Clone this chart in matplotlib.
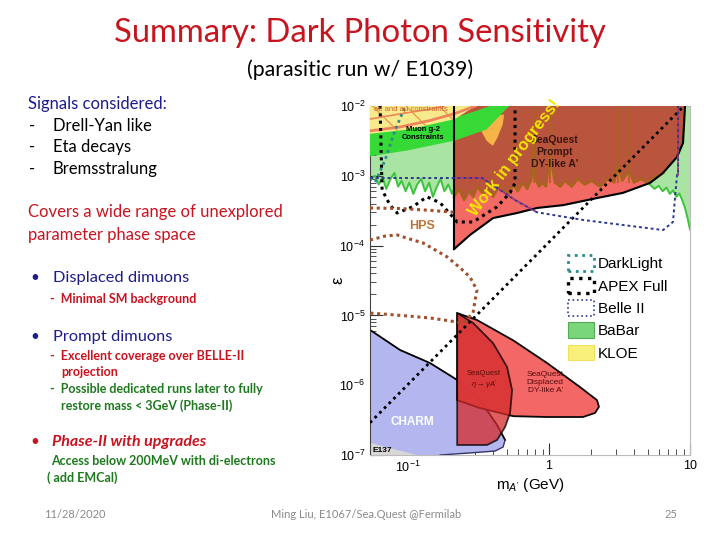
import numpy as np
import matplotlib
matplotlib.use("Agg")
import matplotlib.pyplot as plt
from matplotlib.patches import Patch
from matplotlib.ticker import FixedLocator, FixedFormatter, LogLocator, NullFormatter

# ---------------- data (mass in GeV, epsilon) ----------------
babar_left_m = [0.054, 0.058, 0.062, 0.066, 0.070, 0.075, 0.080, 0.085, 0.090, 0.096, 0.102, 0.109,
                0.116, 0.124, 0.132, 0.141, 0.150, 0.160, 0.170, 0.181, 0.193, 0.205, 0.212]
babar_left_eps = [8.5e-4, 1.0e-3, 7.5e-4, 9.5e-4, 6.5e-4, 9e-4, 1.1e-3, 7e-4, 8.5e-4, 6e-4, 8e-4, 5.5e-4,
                  7.5e-4, 9e-4, 6e-4, 8e-4, 5e-4, 7e-4, 9e-4, 6e-4, 7.5e-4, 5.5e-4, 6.5e-4]
babar_right_m = [5.2, 5.6, 6.0, 6.4, 6.8, 7.2, 7.6, 8.0, 8.4, 8.8, 9.2, 9.6, 10.0]
babar_right_eps = [7.5e-4, 6.5e-4, 7.2e-4, 6.0e-4, 6.8e-4, 5.5e-4, 6.2e-4, 5.0e-4, 5.6e-4, 4.5e-4, 3.5e-4, 2.5e-4, 1.7e-4]

prompt_m = [0.212, 0.212, 0.275, 0.401, 0.593, 0.822, 1.26, 2.19, 3.35, 5.2, 6.44, 8.09, 8.92, 9.22]
prompt_eps = [1e-2, 8.9e-5, 1.42e-4, 2.48e-4, 2.93e-4, 3.46e-4, 3.8e-4, 4.8e-4, 5.7e-4, 7.9e-4, 1.1e-3, 1.86e-3, 2.95e-3, 1e-2]

bkg_m = [0.212, 0.23, 0.25, 0.27, 0.29, 0.31, 0.34, 0.37, 0.40, 0.44, 0.48, 0.52, 0.56, 0.60, 0.65, 0.70,
         0.75, 0.78, 0.80, 0.85, 0.90, 0.95, 1.02, 1.10, 1.2, 1.3, 1.45, 1.6, 1.8, 2.0, 2.3, 2.6, 2.9, 3.1,
         3.3, 3.7, 4.0, 4.5, 5.0, 5.5, 6.0, 6.44]
bkg_eps = [5e-4, 6.5e-4, 4.5e-4, 6e-4, 5e-4, 7e-4, 5.5e-4, 6.5e-4, 5e-4, 7e-4, 6e-4, 5.5e-4, 7.5e-4, 6e-4,
           8e-4, 6.5e-4, 9e-4, 3e-3, 9e-4, 7e-4, 8e-4, 7e-4, 2e-3, 8e-4, 7e-4, 8.5e-4, 7e-4, 9e-4, 7.5e-4,
           8.5e-4, 7e-4, 9e-4, 8e-4, 1.5e-3, 8.5e-4, 1.2e-3, 8e-4, 9e-4, 8e-4, 9.5e-4, 1.0e-3, 1.1e-3]
resonance_m = [0.78, 1.02, 3.1, 3.69]

g2_upper_m = [0.0537, 0.10, 0.215, 0.31, 0.38]
g2_upper_eps = [4.3e-3, 5.2e-3, 6.8e-3, 8.6e-3, 1e-2]
g2_lower_m = [0.0537, 0.098, 0.215, 0.36, 0.52]
g2_lower_eps = [1.9e-3, 2.3e-3, 3.2e-3, 4.6e-3, 1e-2]

kloe_m = [0.0537, 0.30, 0.215, 0.10, 0.0537]
kloe_eps = [1e-2, 1e-2, 6.5e-3, 4.6e-3, 4.0e-3]
orange_m = [0.215, 0.30, 0.36, 0.38, 0.40, 0.43, 0.47, 0.48, 0.215]
orange_eps = [6.0e-3, 6.3e-3, 3.2e-3, 2.9e-3, 2.7e-3, 3.5e-3, 5.5e-3, 7.5e-3, 7.0e-3]
ae_line1_m = [0.0537, 0.0878, 0.143, 0.18]
ae_line1_eps = [6.5e-3, 7.7e-3, 9.0e-3, 1e-2]
ae_line2_m = [0.0537, 0.0878, 0.143, 0.215, 0.30]
ae_line2_eps = [4.4e-3, 5.0e-3, 6.2e-3, 7.8e-3, 1e-2]

darklight_m = [0.0586, 0.0687, 0.0808, 0.0952]
darklight_eps = [8.1e-4, 1.68e-3, 4.5e-3, 9.7e-3]

apex_m = [0.0633, 0.0644, 0.0654, 0.0745, 0.0836, 0.108, 0.136, 0.169, 0.223, 0.289, 0.428, 0.529, 0.574, 0.574]
apex_eps = [1e-2, 2.34e-3, 6.3e-4, 3.8e-4, 2.93e-4, 3.6e-4, 5.0e-4, 4.1e-4, 2.18e-4, 2.18e-4, 3.6e-4, 5.7e-4, 7.9e-4, 1e-2]
diag_m = [0.0537, 8.92]
diag_eps = [2.9e-7, 9.7e-3]

belle_m = [0.0537, 0.215, 0.335, 0.574, 0.822, 1.74, 6.44, 7.57, 8.09, 8.23, 8.23]
belle_eps = [9.3e-4, 9.3e-4, 9.3e-4, 4.5e-4, 3.0e-4, 2.33e-4, 1.67e-4, 2.18e-4, 1.03e-3, 1.03e-3, 1e-2]

hps_up_m = [0.0537, 0.0878, 0.143, 0.215]
hps_up_eps = [3.46e-4, 3.4e-4, 3.2e-4, 3.0e-4]
hps_low_m = [0.0537, 0.0687, 0.0836, 0.103, 0.128, 0.189, 0.234, 0.275, 0.308, 0.299, 0.289, 0.246, 0.143, 0.0836, 0.0537]
hps_low_eps = [1.2e-4, 1.37e-4, 1.42e-4, 1.24e-4, 1.09e-4, 6.9e-5, 4.8e-5, 3.55e-5, 2.31e-5, 1.66e-5, 1.08e-5,
               7.8e-6, 9.2e-6, 1.01e-5, 1.08e-5]

charm_m = [0.0537, 0.0878, 0.143, 0.223, 0.324, 0.428, 0.488, 0.472, 0.414, 0.275, 0.169, 0.0537]
charm_eps = [6.2e-6, 3.19e-6, 2.08e-6, 1.19e-6, 6.1e-7, 2.69e-7, 1.64e-7, 1.30e-7, 1.14e-7, 1.07e-7, 1e-7, 1e-7]
e137_m = [0.0537, 0.0537, 0.075, 0.115]
e137_eps = [1e-7, 1.5e-7, 1.25e-7, 1e-7]

eta_m = [0.223, 0.289, 0.401, 0.504, 0.547, 0.529, 0.488, 0.428, 0.363, 0.223]
eta_eps = [1.08e-5, 7.8e-6, 4.0e-6, 1.82e-6, 8.5e-7, 4.0e-7, 2.52e-7, 1.64e-7, 1.39e-7, 1.39e-7]

disp_m = [0.223, 0.308, 0.556, 0.968, 1.66, 2.19, 2.26, 2.12, 1.74, 0.968, 0.556, 0.324, 0.223]
disp_eps = [1.08e-5, 8.6e-6, 4.4e-6, 2.08e-6, 9.4e-7, 6.1e-7, 4.9e-7, 4.0e-7, 3.5e-7, 3.5e-7, 3.6e-7, 4.7e-7, 6.1e-7]

legend_labels = ["DarkLight", "APEX Full", "Belle II", "BaBar", "KLOE"]
ytick_vals = [1e-7, 1e-6, 1e-5, 1e-4, 1e-3, 1e-2]
ytick_labels = [r"$10^{-7}$", r"$10^{-6}$", r"$10^{-5}$", r"$10^{-4}$", r"$10^{-3}$", r"$10^{-2}$"]
xtick_vals = [0.1, 1, 10]
xtick_labels = [r"$10^{-1}$", "1", "10"]

# ---------------- figure ----------------
plt.rcParams['mathtext.fontset'] = 'custom'
plt.rcParams['mathtext.rm'] = 'Liberation Sans'
plt.rcParams['mathtext.it'] = 'Liberation Sans:italic'
fig = plt.figure(figsize=(7.2, 5.4), dpi=100)
fig.patch.set_facecolor('white')
ax = fig.add_axes([370/720, 1-455/540, 320/720, 349/540])
ax.set_xscale('log'); ax.set_yscale('log')
ax.set_xlim(0.0537, 10); ax.set_ylim(1e-7, 1e-2)

SF = ['Liberation Sans', 'DejaVu Sans']

# BaBar light green
bab_m = babar_left_m + babar_right_m
bab_e = babar_left_eps + babar_right_eps
ax.fill_between(bab_m, bab_e, 1e-2, color='#a9e4a2', lw=0, zorder=1)
ax.plot(babar_left_m, babar_left_eps, color='#3cc43c', lw=1.4, zorder=2)
ax.plot(babar_right_m, babar_right_eps, color='#3cc43c', lw=1.4, zorder=2)

# prompt region
ax.fill(prompt_m, prompt_eps, color='#b9553d', lw=0, zorder=3)
poly_m = bkg_m + prompt_m[1:-3][::-1]
poly_e = bkg_eps + prompt_eps[1:-3][::-1]
ax.fill(poly_m, poly_e, color='#f26a63', lw=0, zorder=3.2)
ax.plot(bkg_m, bkg_eps, color='#a8641e', lw=1.8, zorder=3.4)
ax.vlines(resonance_m, 8e-4, 1e-2, color='#a8641e', lw=1.2, zorder=3.4)
ax.plot(prompt_m[1:], prompt_eps[1:], color='black', lw=1.5, zorder=6)
ax.plot(prompt_m[:2], prompt_eps[:2], color='black', lw=1.5, zorder=6)

# orange and yellow constraints, g-2 band
ax.fill(orange_m, orange_eps, color='#f5b447', lw=0, zorder=4)
gm = g2_upper_m + g2_lower_m[::-1]
ge = g2_upper_eps + g2_lower_eps[::-1]
ax.fill(gm, ge, color='#36d936', lw=0, zorder=4.2)
ax.fill(kloe_m, kloe_eps, facecolor='#f7ea8c', edgecolor='#e8a050', hatch='\\', lw=0, zorder=4.4)
ax.plot(ae_line1_m, ae_line1_eps, color='#f0845a', lw=1.2, zorder=4.6)
ax.plot(ae_line2_m, ae_line2_eps, color='#f0845a', lw=2.0, zorder=4.6)

# lower regions
ax.fill(charm_m, charm_eps, color='#b3b6ef', lw=0, zorder=2)
ax.plot(charm_m[:7], charm_eps[:7], color='black', lw=1.3, zorder=2.5)
ax.plot(charm_m[6:11], charm_eps[6:11], color='#333366', lw=1.0, zorder=2.5)
ax.fill(e137_m, e137_eps, color='#d8d8d8', lw=0, zorder=2.2)
ax.fill(disp_m, disp_eps, facecolor='#f35f5f', edgecolor='black', lw=1.3, alpha=0.95, zorder=3)
ax.fill(eta_m, eta_eps, facecolor='#d42a2a', edgecolor='black', lw=1.3, alpha=0.75, zorder=3.3)

# dotted projection lines
ax.plot(darklight_m, darklight_eps, color='#2a8c8c', lw=2, ls=(0, (1, 1.3)), zorder=7)
ax.plot(apex_m, apex_eps, color='black', lw=2.2, ls=(0, (1, 1.4)), zorder=7)
ax.plot(diag_m, diag_eps, color='black', lw=2.0, ls=(0, (1, 1.4)), zorder=7)
ax.plot(belle_m, belle_eps, color='#2b3a8f', lw=1.4, ls=(0, (1.5, 1.5)), zorder=7)
ax.plot(belle_m[1:5], belle_eps[1:5], color='#b03080', lw=1.4, ls=(0, (1.5, 1.5)), zorder=7.1)
ax.plot(belle_m[8:], belle_eps[8:], color='#b03080', lw=1.4, ls=(0, (1.5, 1.5)), zorder=7.1)
ax.plot(hps_up_m, hps_up_eps, color='#a0522d', lw=2.2, ls=(0, (1, 1.2)), zorder=7)
ax.plot(hps_low_m, hps_low_eps, color='#a0522d', lw=2.2, ls=(0, (1, 1.2)), zorder=7)

# in-plot labels
ax.text(1.10, 2.2e-3, "SeaQuest\nPrompt\nDY-like A'", ha='center', va='center', fontsize=7.5,
        fontweight='bold', color='#3a1410', family=SF, zorder=9, linespacing=1.25)
ax.text(0.126, 1.9e-4, "HPS", ha='center', va='center', fontsize=9, fontweight='bold',
        color='#b8763a', family=SF, zorder=9)
ax.text(0.107, 3.0e-7, "CHARM", ha='center', va='center', fontsize=8.5, fontweight='bold',
        color='white', family=SF, zorder=9)
ax.text(0.346, 1.15e-6, "SeaQuest\n$\\eta\\rightarrow\\gamma A'$", ha='center', va='center', fontsize=5.5,
        color='#5a0a0a', family=SF, zorder=9)
ax.text(0.94, 1.1e-6, "SeaQuest\nDisplaced\nDY-like A'", ha='center', va='center', fontsize=6,
        color='#5a0a0a', family=SF, zorder=9)
ax.text(0.0556, 1.15e-7, "E137", ha='left', va='center', fontsize=6, fontweight='bold',
        color='black', family=SF, zorder=9)
ax.text(0.128, 4.1e-3, "Muon g-2\nConstraints", ha='center', va='center', fontsize=5.5,
        fontweight='bold', color='black', family=SF, zorder=9)
ax.text(0.057, 8.9e-3, "ae and a\u03bc constraints", ha='left', va='center', fontsize=5.5,
        color='#d0602a', family=SF, zorder=9)
ax.text(0.574, 1.8e-3, "Work in progress!", ha='center', va='center', rotation=53, fontsize=12,
        fontweight='bold', color='#f5e600', family=SF, zorder=10)

# axes styling
for s in ax.spines.values():
    s.set_color('#bbbbbb'); s.set_linewidth(0.8)
ax.spines['left'].set_color('#444444')
ax.yaxis.set_major_locator(FixedLocator(ytick_vals))
ax.yaxis.set_major_formatter(FixedFormatter(ytick_labels))
ax.xaxis.set_major_locator(FixedLocator(xtick_vals))
ax.xaxis.set_major_formatter(FixedFormatter(xtick_labels))
ax.xaxis.set_minor_locator(LogLocator(base=10, subs=np.arange(2, 10)))
ax.yaxis.set_minor_locator(LogLocator(base=10, subs=np.arange(2, 10)))
ax.xaxis.set_minor_formatter(NullFormatter()); ax.yaxis.set_minor_formatter(NullFormatter())
ax.tick_params(which='major', direction='in', length=9, width=0.8, labelsize=9, color='#333333')
ax.tick_params(which='minor', direction='in', length=4.5, width=0.6, color='#333333')
for lab in ax.get_xticklabels() + ax.get_yticklabels():
    lab.set_family(SF)
ax.set_ylabel("\u03b5", fontsize=12, family=SF, labelpad=-4)
ax.set_xlabel("m$_{A'}$ (GeV)", fontsize=11, family=SF, labelpad=1)

handles = [Patch(facecolor='none', edgecolor='#2a8c8c', ls=':', lw=2),
           Patch(facecolor='none', edgecolor='black', ls=':', lw=2.4),
           Patch(facecolor='none', edgecolor='#2b3a8f', ls=':', lw=1.2),
           Patch(facecolor='#7ad67a', edgecolor='#55aa55', lw=0.8),
           Patch(facecolor='#f8f07a', edgecolor='#f0e060', lw=0.8)]
leg = ax.legend(handles, legend_labels, loc='upper left', bbox_to_anchor=(0.6, 0.59),
                frameon=False, handlelength=1.7, handleheight=1.2,
                labelspacing=0.42, handletextpad=0.25, borderaxespad=0, prop={'family': SF, 'size': 11})
leg.set_zorder(12)

# ---------------- slide text ----------------
TF = ['Lato', 'DejaVu Sans']
def px(x, y):
    return x/720, 1 - y/540

red = '#c8141e'; navy = '#1c1c8c'; green = '#1e7a1e'
fig.text(*px(360, 33), "Summary: Dark Photon Sensitivity", ha='center', va='center', fontsize=23.6,
         color=red, family=TF)
fig.text(*px(360, 70), "(parasitic run w/ E1039)", ha='center', va='center', fontsize=15.3,
         color='black', family=TF)

BS = 12.0
fig.text(*px(28, 104), "Signals considered:", ha='left', va='center', fontsize=BS, color=navy, family=TF)
for y, s in [(126, "Drell-Yan like"), (147, "Eta decays"), (169, "Bremsstralung")]:
    fig.text(*px(29, y), "-", ha='left', va='center', fontsize=BS, color='black', family=TF)
    fig.text(*px(53, y), s, ha='left', va='center', fontsize=BS, color='black', family=TF)
fig.text(*px(28, 212), "Covers a wide range of unexplored", ha='left', va='center', fontsize=BS,
         color=red, family=TF)
fig.text(*px(28, 235), "parameter phase space", ha='left', va='center', fontsize=BS, color=red, family=TF)

fig.text(*px(30, 278), "\u2022", ha='left', va='center', fontsize=11, color=navy, family=TF)
fig.text(*px(53, 278), "Displaced dimuons", ha='left', va='center', fontsize=11.8, color=navy, family=TF)
SS = 9.0
fig.text(*px(50, 299), "-  Minimal SM background", ha='left', va='center', fontsize=SS,
         color=red, family=TF, fontweight='bold')
fig.text(*px(30, 337), "\u2022", ha='left', va='center', fontsize=11, color=navy, family=TF)
fig.text(*px(53, 337), "Prompt dimuons", ha='left', va='center', fontsize=11.8, color=navy, family=TF)
fig.text(*px(50, 356), "-  Excellent coverage over BELLE-II", ha='left', va='center', fontsize=SS,
         color=red, family=TF, fontweight='bold')
fig.text(*px(61, 372), "projection", ha='left', va='center', fontsize=SS, color=red, family=TF,
         fontweight='bold')
fig.text(*px(50, 389), "-  Possible dedicated runs later to fully", ha='left', va='center', fontsize=SS,
         color=green, family=TF, fontweight='bold')
fig.text(*px(61, 406), "restore mass < 3GeV (Phase-II)", ha='left', va='center', fontsize=SS,
         color=green, family=TF, fontweight='bold')
fig.text(*px(30, 442), "\u2022", ha='left', va='center', fontsize=11, color=red, family=TF)
fig.text(*px(52, 442), "Phase-II with upgrades", ha='left', va='center', fontsize=11.5, color=red,
         family=TF, fontweight='bold', style='italic')
fig.text(*px(51, 461), "Access below 200MeV with di-electrons", ha='left', va='center', fontsize=SS,
         color=green, family=TF, fontweight='bold')
fig.text(*px(47, 478), "( add EMCal)", ha='left', va='center', fontsize=SS, color=green, family=TF,
         fontweight='bold')

fig.text(*px(75, 515), "11/28/2020", ha='center', va='center', fontsize=8, color='#8a8a8a', family=TF)
fig.text(*px(366, 515), "Ming Liu, E1067/Sea.Quest @Fermilab", ha='center', va='center', fontsize=8,
         color='#8a8a8a', family=TF)
fig.text(*px(671, 515), "25", ha='center', va='center', fontsize=8, color='#8a8a8a', family=TF)

fig.savefig("out.png", dpi=100, facecolor='white')
